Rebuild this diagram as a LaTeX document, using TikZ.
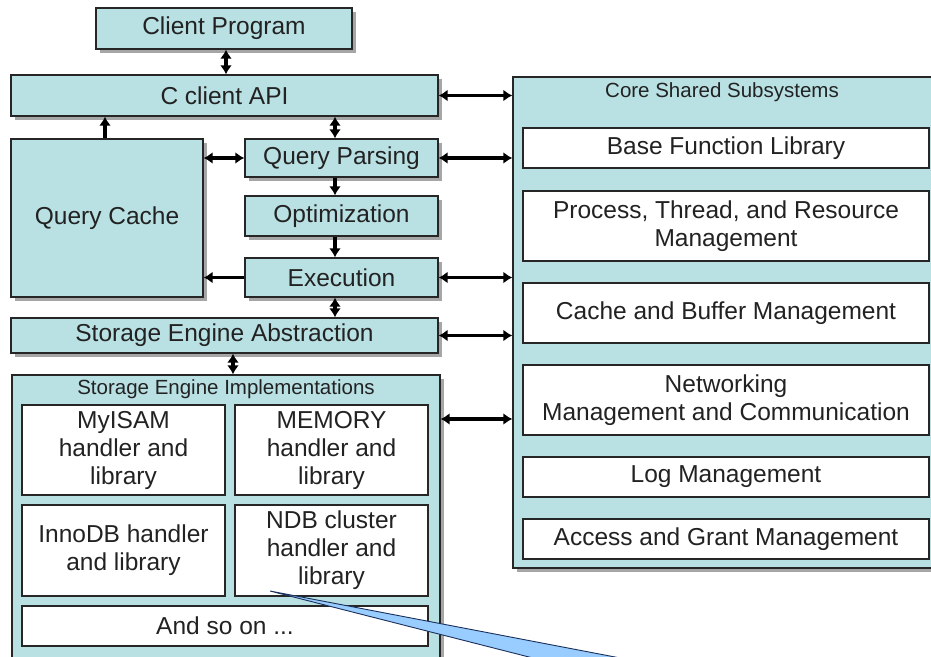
\documentclass[tikz,border=0pt]{standalone}
\usepackage{fontspec}
\setmainfont{Liberation Sans}
\usetikzlibrary{arrows.meta,shadows,calc}
\definecolor{boxcyan}{HTML}{B9E0E3}
\definecolor{txt}{HTML}{222222}
\definecolor{callfill}{HTML}{99CCFF}
\definecolor{callline}{HTML}{1A2F5A}
\begin{document}
\begin{tikzpicture}[x=1pt,y=-1pt,
  cbox/.style={draw=black!85,line width=1.4pt,fill=boxcyan,inner sep=0pt,text=txt,align=center,
    drop shadow={shadow xshift=3.5pt,shadow yshift=-3.5pt,fill=black,opacity=0.35}},
  wbox/.style={draw=black!85,line width=1.3pt,fill=white,inner sep=0pt,text=txt,align=center},
  big/.style={font=\fontsize{24.5}{28}\selectfont},
  small/.style={font=\fontsize{20.5}{24}\selectfont,text=txt},
  both/.style={line width=3.4pt,{Latex[length=9pt,width=12pt]}-{Latex[length=9pt,width=12pt]}},
  one/.style={line width=3.4pt,-{Latex[length=9pt,width=12pt]}},
]
\clip (0,0) rectangle (931,656);
\fill[white] (0,0) rectangle (931,656);

% left column
\node[cbox,big,minimum width=256pt,minimum height=41pt] (cp) at (224,28.5) {Client Program};
\node[cbox,big,minimum width=427pt,minimum height=41pt] (api) at (224.5,95.5) {C client API};
\node[cbox,big,minimum width=192pt,minimum height=158pt] (qc) at (107,218) {Query Cache};
\node[cbox,big,minimum width=193pt,minimum height=38pt] (qp) at (341.5,158) {Query Parsing};
\node[cbox,big,minimum width=193pt,minimum height=40pt] (opt) at (341.5,216) {Optimization};
\node[cbox,big,minimum width=193pt,minimum height=39pt] (exec) at (341.5,277.5) {Execution};
\node[cbox,big,minimum width=427pt,minimum height=35pt] (sea) at (224.5,335.5) {Storage Engine Abstraction};

% storage engine implementations
\node[cbox,minimum width=428pt,minimum height=305pt] (sei) at (226,527.5) {};
\node[small] (seil) at (226,389) {Storage Engine Implementations};
\node[wbox,big,minimum width=203pt,minimum height=90pt] (myisam) at (123.5,450) {MyISAM\\handler and\\library};
\node[wbox,big,minimum width=193pt,minimum height=90pt] (memory) at (331.5,450) {MEMORY\\handler and\\library};
\node[wbox,big,minimum width=203pt,minimum height=91pt] (innodb) at (123.5,550.5) {InnoDB handler\\and library};
\node[wbox,big,minimum width=193pt,minimum height=91pt] (ndb) at (331.5,550.5) {NDB cluster\\handler and\\library};
\node[wbox,big,minimum width=406pt,minimum height=40pt] (andso) at (225,626) {And so on ...};

% core shared subsystems
\node[cbox,minimum width=432pt,minimum height=491pt] (core) at (729,322.5) {};
\node[small] (corel) at (722,92) {Core Shared Subsystems};
\node[wbox,big,minimum width=406pt,minimum height=40pt] (bfl) at (726,148) {Base Function Library};
\node[wbox,big,minimum width=406pt,minimum height=70pt] (ptr) at (726,226) {Process, Thread, and Resource\\Management};
\node[wbox,big,minimum width=406pt,minimum height=60pt] (cbm) at (726,313) {Cache and Buffer Management};
\node[wbox,big,minimum width=406pt,minimum height=70pt] (net) at (726,400) {Networking\\Management and Communication};
\node[wbox,big,minimum width=406pt,minimum height=40pt] (logm) at (726,477) {Log Management};
\node[wbox,big,minimum width=406pt,minimum height=40pt] (acc) at (726,539) {Access and Grant Management};

% helper coordinates
\coordinate (xA) at (335,0);
\coordinate (xB) at (233,0);
\coordinate (xC) at (226,0);
\coordinate (xD) at (105,0);
\coordinate (yS) at (0,419);

% vertical connectors
\draw[both] (cp.south -| xC) -- (api.north -| xC);
\draw[one] (qc.north -| xD) -- (api.south -| xD);
\draw[both] (api.south -| xA) -- (qp.north -| xA);
\draw[one] (qp.south -| xA) -- (opt.north -| xA);
\draw[one] (opt.south -| xA) -- (exec.north -| xA);
\draw[both] (exec.south -| xA) -- (sea.north -| xA);
\draw[both] (sea.south -| xB) -- (sei.north -| xB);

% horizontal connectors
\draw[both] (qp.west) -- (qp.west -| qc.east);
\draw[one] (exec.west) -- (exec.west -| qc.east);
\draw[both] (api.east) -- (api.east -| core.west);
\draw[both] (qp.east) -- (qp.east -| core.west);
\draw[both] (exec.east) -- (exec.east -| core.west);
\draw[both] (sea.east) -- (sea.east -| core.west);
\draw[both] (yS -| sei.east) -- (yS -| core.west);

% callout pointer
\draw[draw=callline,line width=0.9pt,fill=callfill,line join=miter]
  (270,591) -- (580,670) -- (683,670) -- cycle;
\end{tikzpicture}
\end{document}
